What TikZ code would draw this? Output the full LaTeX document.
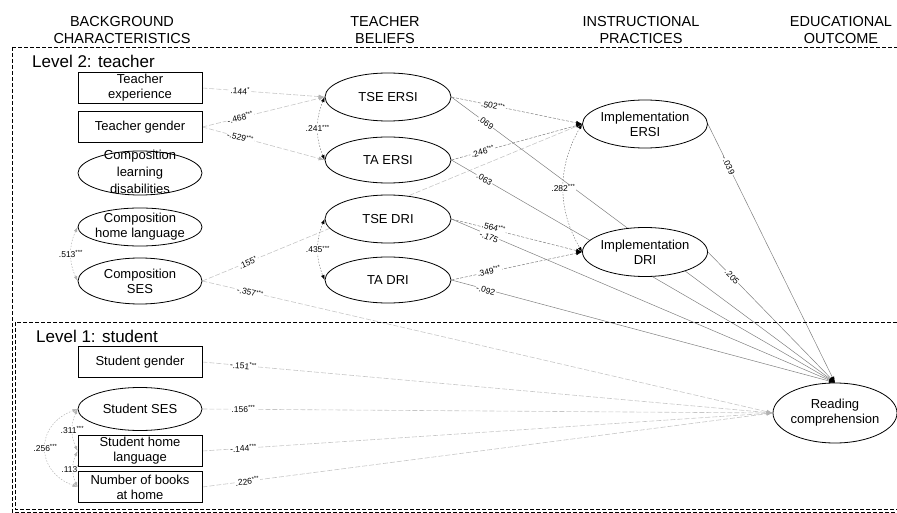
\documentclass[tikz,border=0pt]{standalone}
\usepackage{fontspec}
\setmainfont{Liberation Sans}
\usetikzlibrary{shapes.geometric,arrows.meta,backgrounds}

\begin{document}
\begin{tikzpicture}[x=1pt, y=1pt,
  every node/.style = {align=center},
  box/.style = {shape=rectangle, draw, line width=0.8pt, fill=white,
    minimum width=124pt, minimum height=31pt, inner sep=1pt,
    font=\fontsize{13}{15}\selectfont},
  oval/.style = {shape=ellipse, draw, line width=0.8pt, fill=white,
    minimum width=124pt, inner sep=-1pt, font=\fontsize{13}{15}\selectfont},
  head/.style = {font=\fontsize{14.5}{16.5}\selectfont},
  lvl/.style = {anchor=west, inner sep=0pt, font=\fontsize{17}{20}\selectfont},
  lbl/.style = {fill=white, inner sep=0.8pt, font=\fontsize{8.5}{9}\selectfont},
  slbl/.style = {lbl, sloped},
  sig/.style = {draw=gray, dash pattern=on 3pt off 1.5pt, line width=0.5pt,
    -{Latex[length=6pt,width=4pt,color=black]}},
  ns/.style = {draw=gray, line width=0.5pt, -{Latex[length=6pt,width=4pt,color=black]}},
  lite/.style = {draw=gray!45, dash pattern=on 5pt off 2pt, line width=0.6pt,
    -{Latex[length=6pt,width=4pt,color=gray!60]}},
  cov/.style = {draw=gray, dash pattern=on 1.5pt off 1.5pt, line width=0.5pt,
    {Latex[length=5pt,width=3.5pt,color=black]}-{Latex[length=5pt,width=3.5pt,color=black]}},
  lcov/.style = {cov, draw=gray!60,
    {Latex[length=5pt,width=3.5pt,color=gray!60]}-{Latex[length=5pt,width=3.5pt,color=gray!60]}}]

  \useasboundingbox (0,0) rectangle (897,-513);
  \clip (0,0) rectangle (897,-513);

  \draw[dash pattern=on 4pt off 2pt, line width=0.9pt] (12,-47) rectangle (905,-512);
  \draw[dash pattern=on 4pt off 2pt, line width=0.9pt] (15,-322) rectangle (905,-509);

  \node[head] (hbg) at (122,-30) {BACKGROUND\\CHARACTERISTICS};
  \node[head] (htb) at (385,-30) {TEACHER\\BELIEFS};
  \node[head] (hip) at (641,-30) {INSTRUCTIONAL\\PRACTICES};
  \node[head] (heo) at (841,-30) {EDUCATIONAL\\OUTCOME};

  \node[lvl] (lvtwo) at (32,-61) {Level 2: teacher};
  \node[lvl] (lvone) at (36,-336) {Level 1: student};

  \node[box] (texp) at (140,-88) {Teacher\\experience};
  \node[box] (tgen) at (140,-127) {Teacher gender};
  \node[oval, minimum height=44pt] (cld) at (140,-173)
    {\raisebox{-3.3pt}[0pt][0pt]{\fontsize{13}{17}\selectfont
      \begin{tabular}{@{}c@{}}Composition\\learning\\disabilities\end{tabular}}};
  \node[oval, minimum height=38pt] (chl) at (140,-227) {Composition\\home language};
  \node[oval, minimum height=46pt] (cses) at (140,-281) {Composition\\SES};

  \node[oval, minimum width=126pt, minimum height=48pt] (tseersi) at (388,-97) {TSE ERSI};
  \node[oval, minimum width=126pt, minimum height=46pt] (taersi) at (388,-160) {TA ERSI};
  \node[oval, minimum width=126pt, minimum height=48pt] (tsedri) at (388,-219) {TSE DRI};
  \node[oval, minimum width=126pt, minimum height=46pt] (tadri) at (388,-280) {TA DRI};

  \node[oval, minimum width=125pt, minimum height=48pt] (iersi) at (645,-124) {Implementation\\ERSI};
  \node[oval, minimum width=125pt, minimum height=49pt] (idri) at (645,-252) {Implementation\\DRI};

  \node[oval, minimum height=60pt] (rc) at (835,-413) {Reading\\comprehension};

  \node[box] (sgen) at (140,-362) {Student gender};
  \node[oval, minimum height=43pt] (sses) at (140,-409) {Student SES};
  \node[box] (shl) at (140,-451) {Student home\\language};
  \node[box] (books) at (140,-487) {Number of books\\at home};

  \begin{pgfonlayer}{background}
  \draw[lite] (texp.east) -- node[slbl, pos=.31] {.144\textsuperscript{*}} (tseersi.west);
  \draw[lite] (tgen.east) -- node[slbl, pos=.31] {-.468\textsuperscript{***}} (tseersi.west);
  \draw[lite] (tgen.east) -- node[slbl, pos=.31] {-.529\textsuperscript{***}} (taersi.west);
  \draw[lite] (cses.east) -- node[slbl, pos=.12] {.155\textsuperscript{*}} (iersi.west);
  \draw[lite] (cses.east) -- node[slbl, pos=.084] {-.357\textsuperscript{***}} (rc.west);

  \draw[sig] (tseersi.east) -- node[slbl, pos=.32] {.502\textsuperscript{***}} (iersi.west);
  \draw[ns] (tseersi.east) -- node[slbl, pos=.09] {.069} (rc.north);
  \draw[sig] (taersi.east) -- node[slbl, pos=.24] {.246\textsuperscript{***}} (iersi.west);
  \draw[ns] (taersi.east) -- node[slbl, pos=.086] {.063} (rc.north);
  \draw[sig] (tsedri.east) -- node[slbl, pos=.32, yshift=2pt] {.564\textsuperscript{***}} (idri.west);
  \draw[ns] (tsedri.east) -- node[slbl, pos=.1, yshift=-2pt] {-.175} (rc.north);
  \draw[sig] (tadri.east) -- node[slbl, pos=.29, yshift=1pt] {.349\textsuperscript{***}} (idri.west);
  \draw[ns] (tadri.east) -- node[slbl, pos=.09, yshift=-1pt] {-.092} (rc.north);
  \draw[ns] (iersi.east) -- node[slbl, pos=.16] {-.039} (rc.north);
  \draw[ns] (idri.east) -- node[slbl, pos=.19] {.205} (rc.north);

  \draw[cov] (tseersi.west) to[bend right=22] node[lbl] {.241\textsuperscript{***}} (taersi.west);
  \draw[cov] (tsedri.west) to[bend right=22] node[lbl] {.435\textsuperscript{***}} (tadri.west);
  \draw[cov] (iersi.west) to[bend right=30] node[lbl] {.282\textsuperscript{***}} (idri.west);
  \draw[lcov] (chl.west) to[bend right=25] node[lbl] {.513\textsuperscript{***}} (cses.west);

  \draw[lite] (sgen.east) -- node[slbl, pos=.072] {-.151\textsuperscript{***}} (rc.west);
  \draw[lite] (sses.east) -- node[slbl, pos=.072] {.156\textsuperscript{***}} (rc.west);
  \draw[lite] (shl.east) -- node[slbl, pos=.072] {-.144\textsuperscript{***}} (rc.west);
  \draw[lite] (books.east) -- node[slbl, pos=.079] {.226\textsuperscript{***}} (rc.west);

  \draw[lcov] (sses.west) to[bend right=25] node[lbl] {.311\textsuperscript{***}} (shl.west);
  \draw[lcov] (shl.west) to[bend right=25] node[lbl] {.113\textsuperscript{***}} (books.west);
  \draw[lcov] (sses.west) to[bend right=70, looseness=1.5] node[lbl] {.256\textsuperscript{***}} (books.west);
  \end{pgfonlayer}
\end{tikzpicture}
\end{document}
